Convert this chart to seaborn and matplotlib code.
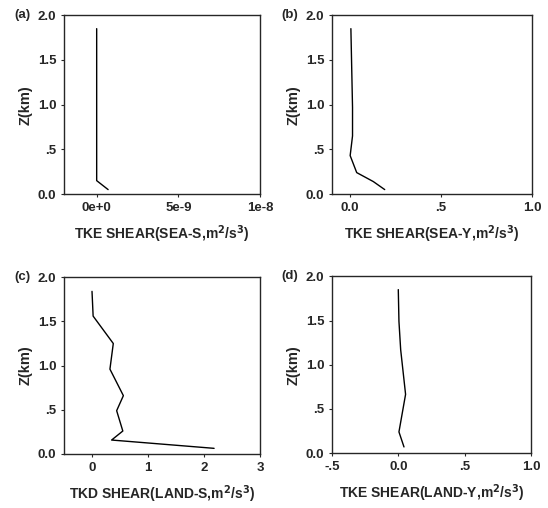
import numpy as np
import pandas as pd
import seaborn as sns
import matplotlib
matplotlib.use("Agg")
import matplotlib.pyplot as plt

# profiles (height in km, shear term)
z_a = [0.05, 0.15, 0.25, 0.5, 1.0, 1.5, 1.85]
v_a = [0.7e-9, 0.0, 0.0, 0.0, 0.0, 0.0, 0.0]

z_b = [0.05, 0.14, 0.24, 0.43, 0.65, 0.97, 1.85]
v_b = [0.19, 0.127, 0.036, 0.0, 0.013, 0.013, 0.004]

z_c = [0.064, 0.158, 0.26, 0.49, 0.66, 0.96, 1.25, 1.56, 1.84]
v_c = [2.18, 0.35, 0.55, 0.44, 0.56, 0.32, 0.38, 0.02, 0.0]

z_d = [0.07, 0.24, 0.665, 1.17, 1.49, 1.85]
v_d = [0.043, 0.005, 0.055, 0.018, 0.005, 0.0]

panels = ["(a)", "(b)", "(c)", "(d)"]
xlabels = [r"TKE SHEAR(SEA-S,m$^\mathbf{2}$/s$^\mathbf{3}$)",
           r"TKE SHEAR(SEA-Y,m$^\mathbf{2}$/s$^\mathbf{3}$)",
           r"TKD SHEAR(LAND-S,m$^\mathbf{2}$/s$^\mathbf{3}$)",
           r"TKE SHEAR(LAND-Y,m$^\mathbf{2}$/s$^\mathbf{3}$)"]
xlims = [(-2e-9, 1e-8), (-0.1, 1.0), (-0.5, 3.0), (-0.5, 1.0)]
xticks = [[0, 5e-9, 1e-8], [0, 0.5, 1.0], [0, 1, 2, 3], [-0.5, 0, 0.5, 1.0]]
xticklabels = [["0e+0", "5e-9", "1e-8"], ["0.0", ".5", "1.0"],
               ["0", "1", "2", "3"], ["-.5", "0.0", ".5", "1.0"]]
yticks = [0, 0.5, 1.0, 1.5, 2.0]
yticklabels = ["0.0", ".5", "1.0", "1.5", "2.0"]

sns.set_style("ticks")
plt.rcParams['font.family'] = ['Liberation Sans', 'DejaVu Sans']
plt.rcParams['font.weight'] = 'bold'
plt.rcParams['axes.labelweight'] = 'bold'
plt.rcParams['mathtext.default'] = 'bf'

fig = plt.figure(figsize=(5.48, 5.08), dpi=100)
rects = [[0.1168, 0.618, 0.3577, 0.352],
         [0.6058, 0.618, 0.365, 0.352],
         [0.1168, 0.1063, 0.3577, 0.348],
         [0.6058, 0.108, 0.363, 0.348]]
data = [(v_a, z_a), (v_b, z_b), (v_c, z_c), (v_d, z_d)]

for i in range(4):
    ax = fig.add_axes(rects[i])
    df = pd.DataFrame({"v": data[i][0], "z": data[i][1]})
    sns.lineplot(data=df, x="v", y="z", sort=False, estimator=None,
                 color="black", lw=1.0, ax=ax)
    ax.set_xlim(*xlims[i])
    ax.set_ylim(0, 2.0)
    ax.set_xticks(xticks[i])
    ax.set_xticklabels(xticklabels[i], fontsize=9.5, fontweight='bold')
    ax.set_yticks(yticks)
    ax.set_yticklabels(yticklabels, fontsize=9.5, fontweight='bold')
    ax.tick_params(direction='out', length=2.5, width=0.8, pad=3)
    for s in ax.spines.values():
        s.set_linewidth(1.0)
    ax.set_xlabel(xlabels[i], fontsize=10, fontweight='bold', labelpad=7)
    ax.set_ylabel("Z(km)", fontsize=10.5, fontweight='bold', labelpad=4)
    ax.text(-0.255, 1.0, panels[i], transform=ax.transAxes, fontsize=9.5,
            fontweight='bold', va='center', ha='left')

fig.savefig("out.png", dpi=100)
